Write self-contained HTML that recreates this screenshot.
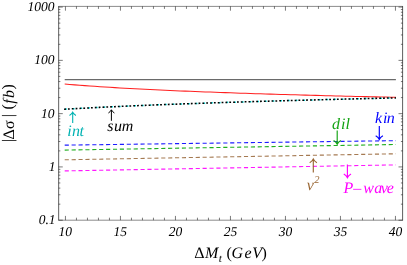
<!DOCTYPE html>
<html><head><meta charset="utf-8"><title>plot</title>
<style>html,body{margin:0;padding:0;background:#fff;font-family:"Liberation Serif",serif}</style></head>
<body>
<svg width="407" height="265" viewBox="0 0 407 265" style="display:block;will-change:transform;text-rendering:geometricPrecision">
<g fill="none">
<path d="M64.70 79.60 L395.90 79.60" stroke="#6a6a6a" stroke-width="1.35"/>
<path d="M64.70 84.03 L69.72 84.46 L74.74 84.87 L79.75 85.26 L84.77 85.64 L89.79 86.00 L94.81 86.35 L99.83 86.69 L104.85 87.01 L109.86 87.33 L114.88 87.63 L119.90 87.93 L124.92 88.21 L129.94 88.49 L134.95 88.76 L139.97 89.02 L144.99 89.28 L150.01 89.53 L155.03 89.77 L160.05 90.01 L165.06 90.24 L170.08 90.46 L175.10 90.68 L180.12 90.90 L185.14 91.11 L190.15 91.31 L195.17 91.52 L200.19 91.71 L205.21 91.91 L210.23 92.10 L215.25 92.28 L220.26 92.46 L225.28 92.64 L230.30 92.82 L235.32 92.99 L240.34 93.16 L245.35 93.33 L250.37 93.49 L255.39 93.65 L260.41 93.81 L265.43 93.96 L270.45 94.12 L275.46 94.27 L280.48 94.41 L285.50 94.56 L290.52 94.70 L295.54 94.85 L300.55 94.98 L305.57 95.12 L310.59 95.26 L315.61 95.39 L320.63 95.52 L325.65 95.65 L330.66 95.78 L335.68 95.91 L340.70 96.03 L345.72 96.16 L350.74 96.28 L355.75 96.40 L360.77 96.52 L365.79 96.63 L370.81 96.75 L375.83 96.86 L380.85 96.98 L385.86 97.09 L390.88 97.20 L395.90 97.31" stroke="#ff2020" stroke-width="1.05"/>
<path d="M64.10 109.23 L69.13 108.99 L74.15 108.70 L79.18 108.42 L84.21 108.15 L89.24 107.89 L94.26 107.63 L99.29 107.38 L104.32 107.14 L109.35 106.90 L114.37 106.67 L119.40 106.44 L124.43 106.22 L129.45 106.00 L134.48 105.78 L139.51 105.57 L144.54 105.37 L149.56 105.16 L154.59 104.96 L159.62 104.77 L164.65 104.58 L169.67 104.39 L174.70 104.20 L179.73 104.02 L184.75 103.83 L189.78 103.66 L194.81 103.48 L199.84 103.31 L204.86 103.14 L209.89 102.97 L214.92 102.80 L219.95 102.64 L224.97 102.47 L230.00 102.31 L235.03 102.16 L240.05 102.00 L245.08 101.85 L250.11 101.69 L255.14 101.54 L260.16 101.39 L265.19 101.25 L270.22 101.10 L275.25 100.96 L280.27 100.81 L285.30 100.67 L290.33 100.53 L295.35 100.40 L300.38 100.26 L305.41 100.12 L310.44 99.99 L315.46 99.86 L320.49 99.73 L325.52 99.59 L330.55 99.47 L335.57 99.34 L340.60 99.21 L345.63 99.09 L350.65 98.96 L355.68 98.84 L360.71 98.72 L365.74 98.60 L370.76 98.48 L375.79 98.36 L380.82 98.24 L385.85 98.12 L390.87 98.01 L395.90 97.89" stroke="#00e0e0" stroke-width="1.5" stroke-dasharray="1.8 5.89" stroke-dashoffset="-1.0"/>
<path d="M64.10 109.23 L69.13 108.99 L74.15 108.70 L79.18 108.42 L84.21 108.15 L89.24 107.89 L94.26 107.63 L99.29 107.38 L104.32 107.14 L109.35 106.90 L114.37 106.67 L119.40 106.44 L124.43 106.22 L129.45 106.00 L134.48 105.78 L139.51 105.57 L144.54 105.37 L149.56 105.16 L154.59 104.96 L159.62 104.77 L164.65 104.58 L169.67 104.39 L174.70 104.20 L179.73 104.02 L184.75 103.83 L189.78 103.66 L194.81 103.48 L199.84 103.31 L204.86 103.14 L209.89 102.97 L214.92 102.80 L219.95 102.64 L224.97 102.47 L230.00 102.31 L235.03 102.16 L240.05 102.00 L245.08 101.85 L250.11 101.69 L255.14 101.54 L260.16 101.39 L265.19 101.25 L270.22 101.10 L275.25 100.96 L280.27 100.81 L285.30 100.67 L290.33 100.53 L295.35 100.40 L300.38 100.26 L305.41 100.12 L310.44 99.99 L315.46 99.86 L320.49 99.73 L325.52 99.59 L330.55 99.47 L335.57 99.34 L340.60 99.21 L345.63 99.09 L350.65 98.96 L355.68 98.84 L360.71 98.72 L365.74 98.60 L370.76 98.48 L375.79 98.36 L380.82 98.24 L385.85 98.12 L390.87 98.01 L395.90 97.89" stroke="#000" stroke-width="1.55" stroke-dasharray="1.8 2.045"/>
<path d="M64.70 145.16 L395.90 140.64" stroke="#1c1cff" stroke-width="1.1" stroke-dasharray="4.14 2.755"/>
<path d="M64.70 150.11 L395.90 144.49" stroke="#1fae1f" stroke-width="1.1" stroke-dasharray="4.14 2.755"/>
<path d="M64.70 159.81 L395.90 153.79" stroke="#a57a52" stroke-width="1.1" stroke-dasharray="4.14 2.755"/>
<path d="M64.70 170.91 L395.90 164.89" stroke="#ff18ff" stroke-width="1.1" stroke-dasharray="4.14 2.755"/>
</g>
<path d="M58.67 6.10 V220.50 M402.60 6.10 V220.50" stroke="#000" stroke-width="0.64" fill="none"/>
<path d="M58.67 6.40 H402.60 M58.67 220.20 H402.60" stroke="#000" stroke-width="0.46" fill="none"/>
<path d="M65.45 220.20 v-4.30 M65.45 6.40 v4.30 M76.45 220.20 v-2.50 M76.45 6.40 v2.50 M87.45 220.20 v-2.50 M87.45 6.40 v2.50 M98.45 220.20 v-2.50 M98.45 6.40 v2.50 M109.45 220.20 v-2.50 M109.45 6.40 v2.50 M120.45 220.20 v-4.30 M120.45 6.40 v4.30 M131.45 220.20 v-2.50 M131.45 6.40 v2.50 M142.45 220.20 v-2.50 M142.45 6.40 v2.50 M153.45 220.20 v-2.50 M153.45 6.40 v2.50 M164.45 220.20 v-2.50 M164.45 6.40 v2.50 M175.45 220.20 v-4.30 M175.45 6.40 v4.30 M186.45 220.20 v-2.50 M186.45 6.40 v2.50 M197.45 220.20 v-2.50 M197.45 6.40 v2.50 M208.45 220.20 v-2.50 M208.45 6.40 v2.50 M219.45 220.20 v-2.50 M219.45 6.40 v2.50 M230.45 220.20 v-4.30 M230.45 6.40 v4.30 M241.45 220.20 v-2.50 M241.45 6.40 v2.50 M252.45 220.20 v-2.50 M252.45 6.40 v2.50 M263.45 220.20 v-2.50 M263.45 6.40 v2.50 M274.45 220.20 v-2.50 M274.45 6.40 v2.50 M285.45 220.20 v-4.30 M285.45 6.40 v4.30 M296.45 220.20 v-2.50 M296.45 6.40 v2.50 M307.45 220.20 v-2.50 M307.45 6.40 v2.50 M318.45 220.20 v-2.50 M318.45 6.40 v2.50 M329.45 220.20 v-2.50 M329.45 6.40 v2.50 M340.45 220.20 v-4.30 M340.45 6.40 v4.30 M351.45 220.20 v-2.50 M351.45 6.40 v2.50 M362.45 220.20 v-2.50 M362.45 6.40 v2.50 M373.45 220.20 v-2.50 M373.45 6.40 v2.50 M384.45 220.20 v-2.50 M384.45 6.40 v2.50 M395.45 220.20 v-4.30 M395.45 6.40 v4.30 M58.67 220.20 h4.10 M402.60 220.20 h-4.10 M58.67 204.16 h1.70 M402.60 204.16 h-1.70 M58.67 194.78 h1.70 M402.60 194.78 h-1.70 M58.67 188.12 h1.70 M402.60 188.12 h-1.70 M58.67 182.96 h1.70 M402.60 182.96 h-1.70 M58.67 178.74 h1.70 M402.60 178.74 h-1.70 M58.67 175.17 h1.70 M402.60 175.17 h-1.70 M58.67 172.08 h1.70 M402.60 172.08 h-1.70 M58.67 169.36 h1.70 M402.60 169.36 h-1.70 M58.67 166.92 h4.10 M402.60 166.92 h-4.10 M58.67 150.88 h1.70 M402.60 150.88 h-1.70 M58.67 141.50 h1.70 M402.60 141.50 h-1.70 M58.67 134.84 h1.70 M402.60 134.84 h-1.70 M58.67 129.68 h1.70 M402.60 129.68 h-1.70 M58.67 125.46 h1.70 M402.60 125.46 h-1.70 M58.67 121.89 h1.70 M402.60 121.89 h-1.70 M58.67 118.80 h1.70 M402.60 118.80 h-1.70 M58.67 116.08 h1.70 M402.60 116.08 h-1.70 M58.67 113.64 h4.10 M402.60 113.64 h-4.10 M58.67 97.60 h1.70 M402.60 97.60 h-1.70 M58.67 88.22 h1.70 M402.60 88.22 h-1.70 M58.67 81.56 h1.70 M402.60 81.56 h-1.70 M58.67 76.40 h1.70 M402.60 76.40 h-1.70 M58.67 72.18 h1.70 M402.60 72.18 h-1.70 M58.67 68.61 h1.70 M402.60 68.61 h-1.70 M58.67 65.52 h1.70 M402.60 65.52 h-1.70 M58.67 62.80 h1.70 M402.60 62.80 h-1.70 M58.67 60.36 h4.10 M402.60 60.36 h-4.10 M58.67 44.32 h1.70 M402.60 44.32 h-1.70 M58.67 34.94 h1.70 M402.60 34.94 h-1.70 M58.67 28.28 h1.70 M402.60 28.28 h-1.70 M58.67 23.12 h1.70 M402.60 23.12 h-1.70 M58.67 18.90 h1.70 M402.60 18.90 h-1.70 M58.67 15.33 h1.70 M402.60 15.33 h-1.70 M58.67 12.24 h1.70 M402.60 12.24 h-1.70 M58.67 9.52 h1.70 M402.60 9.52 h-1.70 M58.67 7.08 h4.1 M402.60 7.08 h-4.1" stroke="#000" stroke-width="0.52" fill="none"/>
<g font-family="Liberation Serif, serif" font-style="italic" font-size="13.5" fill="#000">
<text x="65.15" y="235.6" text-anchor="middle">10</text>
<text x="120.35" y="235.6" text-anchor="middle">15</text>
<text x="175.45" y="235.6" text-anchor="middle">20</text>
<text x="230.45" y="235.6" text-anchor="middle">25</text>
<text x="285.45" y="235.6" text-anchor="middle">30</text>
<text x="340.45" y="235.6" text-anchor="middle">35</text>
<text x="395.45" y="235.6" text-anchor="middle">40</text>
<text x="54.50" y="10.65" text-anchor="end">1000</text>
<text x="54.50" y="63.80" text-anchor="end">100</text>
<text x="54.50" y="117.50" text-anchor="end">10</text>
<text x="55.50" y="170.70" text-anchor="end">1</text>
<text x="55.50" y="224.20" text-anchor="end">0.1</text>
</g>
<g font-family="Liberation Serif, serif" font-size="16" fill="#000">
<text y="258.4"><tspan x="194.2">Δ</tspan><tspan font-style="italic" x="205.0">M</tspan><tspan font-style="italic" font-size="11.3" x="218.75" y="262.2">t</tspan><tspan x="226.55" y="258.4">(</tspan><tspan font-style="italic" x="231.5 244.55 252.2">GeV</tspan><tspan x="261.5">)</tspan></text>
<text transform="translate(13.9 142.1) rotate(-90)"><tspan x="0" y="-1.2">|</tspan><tspan x="2.5 13.0" y="0">Δσ</tspan><tspan x="24.8" y="-1.2">|</tspan><tspan x="32.55" y="-1.0">(</tspan><tspan font-style="italic" x="38.4 44.2" y="0">fb</tspan><tspan x="52.55" y="-1.0">)</tspan></text>
</g>
<g font-family="Liberation Serif, serif" font-style="italic" font-size="16">
<text x="67.2 72.0 79.5" y="136.35" fill="#00b2b2">int</text>
<path d="M72.70 123.00 L72.70 112.40 M69.50 115.40 Q71.74 114.15 72.70 112.30 Q73.66 114.15 75.90 115.40" stroke="#00b2b2" stroke-width="1.10" fill="none" stroke-linejoin="miter"/>
<text x="107.2 114.1 121.85" y="131.15" fill="#000">sum</text>
<path d="M111.40 120.80 L111.40 109.90 M108.40 113.00 Q110.50 111.71 111.40 109.80 Q112.30 111.71 114.40 113.00" stroke="#000" stroke-width="1.00" fill="none" stroke-linejoin="miter"/>
<text x="332.0 341.1 345.55" y="128.5" fill="#12a312">dil</text>
<path d="M337.20 130.50 L337.20 144.10 M333.60 140.50 Q336.12 141.98 337.20 144.20 Q338.28 141.98 340.80 140.50" stroke="#12a312" stroke-width="1.15" fill="none" stroke-linejoin="miter"/>
<text x="374.9 382.9 386.8" y="123.25" fill="#0000ff">kin</text>
<path d="M379.30 125.90 L379.30 139.45 M375.70 135.85 Q378.22 137.33 379.30 139.55 Q380.38 137.33 382.90 135.85" stroke="#0000ff" stroke-width="1.15" fill="none" stroke-linejoin="miter"/>
<text fill="#996633"><tspan x="306.8" y="189.8">v</tspan><tspan font-size="10.5" x="314.2" y="183.3">2</tspan></text>
<path d="M313.30 172.40 L313.30 159.10 M309.70 162.70 Q312.22 161.22 313.30 159.00 Q314.38 161.22 316.90 162.70" stroke="#996633" stroke-width="1.15" fill="none" stroke-linejoin="miter"/>
<text x="343.6 353.2 363.2 374.2 380.8 386.7" y="192.6" fill="#ff00ff">P–wave</text>
<path d="M347.40 164.60 L347.40 177.60 M343.80 174.00 Q346.32 175.48 347.40 177.70 Q348.48 175.48 351.00 174.00" stroke="#ff00ff" stroke-width="1.15" fill="none" stroke-linejoin="miter"/>
</g>
</svg>
</body></html>
